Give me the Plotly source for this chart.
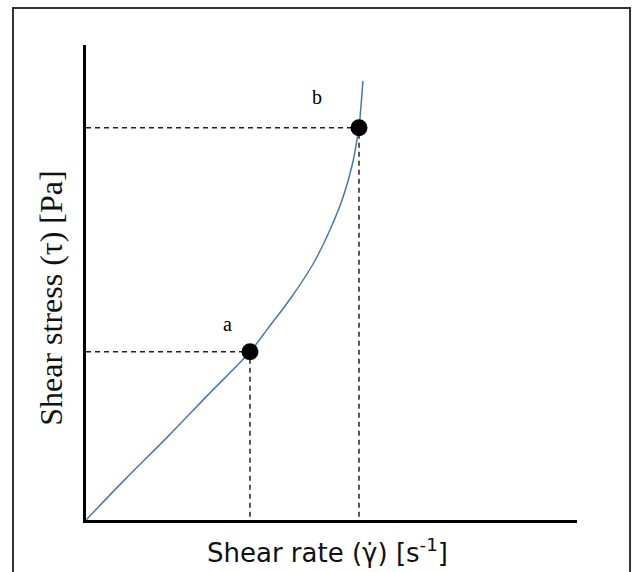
import plotly.graph_objects as go

# Curve (arbitrary units, 0-100 on both axes)
curve_x = [0, 8.0, 16.7, 25.0, 33.4, 37.1, 41.9, 46.3, 49.7, 52.4, 54.3, 55.3, 55.6, 56.4]
curve_y = [0, 8.6, 17.6, 26.5, 35.4, 40.4, 47.0, 54.0, 61.1, 68.1, 75.1, 80.7, 82.6, 92.4]

# Marked points
point_labels = ["a", "b"]
point_x = [33.4, 55.6]
point_y = [35.4, 82.6]

x_title = "Shear rate (γ̇) [s<sup>-1</sup>]"
y_title = "Shear stress (τ) [Pa]"

fig = go.Figure()

# dashed guide lines
for px, py in zip(point_x, point_y):
    fig.add_trace(go.Scatter(x=[0, px, px], y=[py, py, 0], mode="lines",
                             line=dict(color="#222222", width=1.5, dash="5px,4px"),
                             hoverinfo="skip", showlegend=False))

fig.add_trace(go.Scatter(x=curve_x, y=curve_y, mode="lines",
                         line=dict(color="#4a78aa", width=1.5, shape="spline", smoothing=1.0),
                         showlegend=False))

fig.add_trace(go.Scatter(x=point_x, y=point_y, mode="markers",
                         marker=dict(color="black", size=17), showlegend=False))

# point labels
label_dx = [-4.6, -8.6]
label_dy = [5.9, 6.4]
for lab, px, py, dx, dy in zip(point_labels, point_x, point_y, label_dx, label_dy):
    fig.add_annotation(x=px + dx, y=py + dy, text=lab, showarrow=False,
                       font=dict(family="Liberation Serif", size=20, color="black"))

# axis titles
fig.add_annotation(xref="paper", yref="paper", x=0.491, y=-0.065, text=x_title,
                   showarrow=False, yanchor="middle",
                   font=dict(family="DejaVu Sans", size=26, color="#111111"))
fig.add_annotation(xref="paper", yref="paper", x=-0.07, y=0.467, text=y_title,
                   showarrow=False, textangle=-90, xanchor="center",
                   font=dict(family="Liberation Serif", size=32, color="#111111"))

# outer frame
fig.add_shape(type="rect", xref="paper", yref="paper",
              x0=-0.1487, x1=1.108, y0=-0.14, y1=1.0779,
              line=dict(color="#333333", width=2), fillcolor="rgba(0,0,0,0)")

fig.update_xaxes(range=[0, 100], showline=True, linecolor="black", linewidth=3,
                 showgrid=False, zeroline=False, showticklabels=False, ticks="")
fig.update_yaxes(range=[0, 100], showline=True, linecolor="black", linewidth=3,
                 showgrid=False, zeroline=False, showticklabels=False, ticks="")

fig.update_layout(width=632, height=572, margin=dict(l=86, r=55, t=45, b=52),
                  plot_bgcolor="white", paper_bgcolor="white")

fig.write_html("out.html", config={"displayModeBar": False},
               post_script="document.body.style.margin='0';document.body.style.overflow='hidden';")
